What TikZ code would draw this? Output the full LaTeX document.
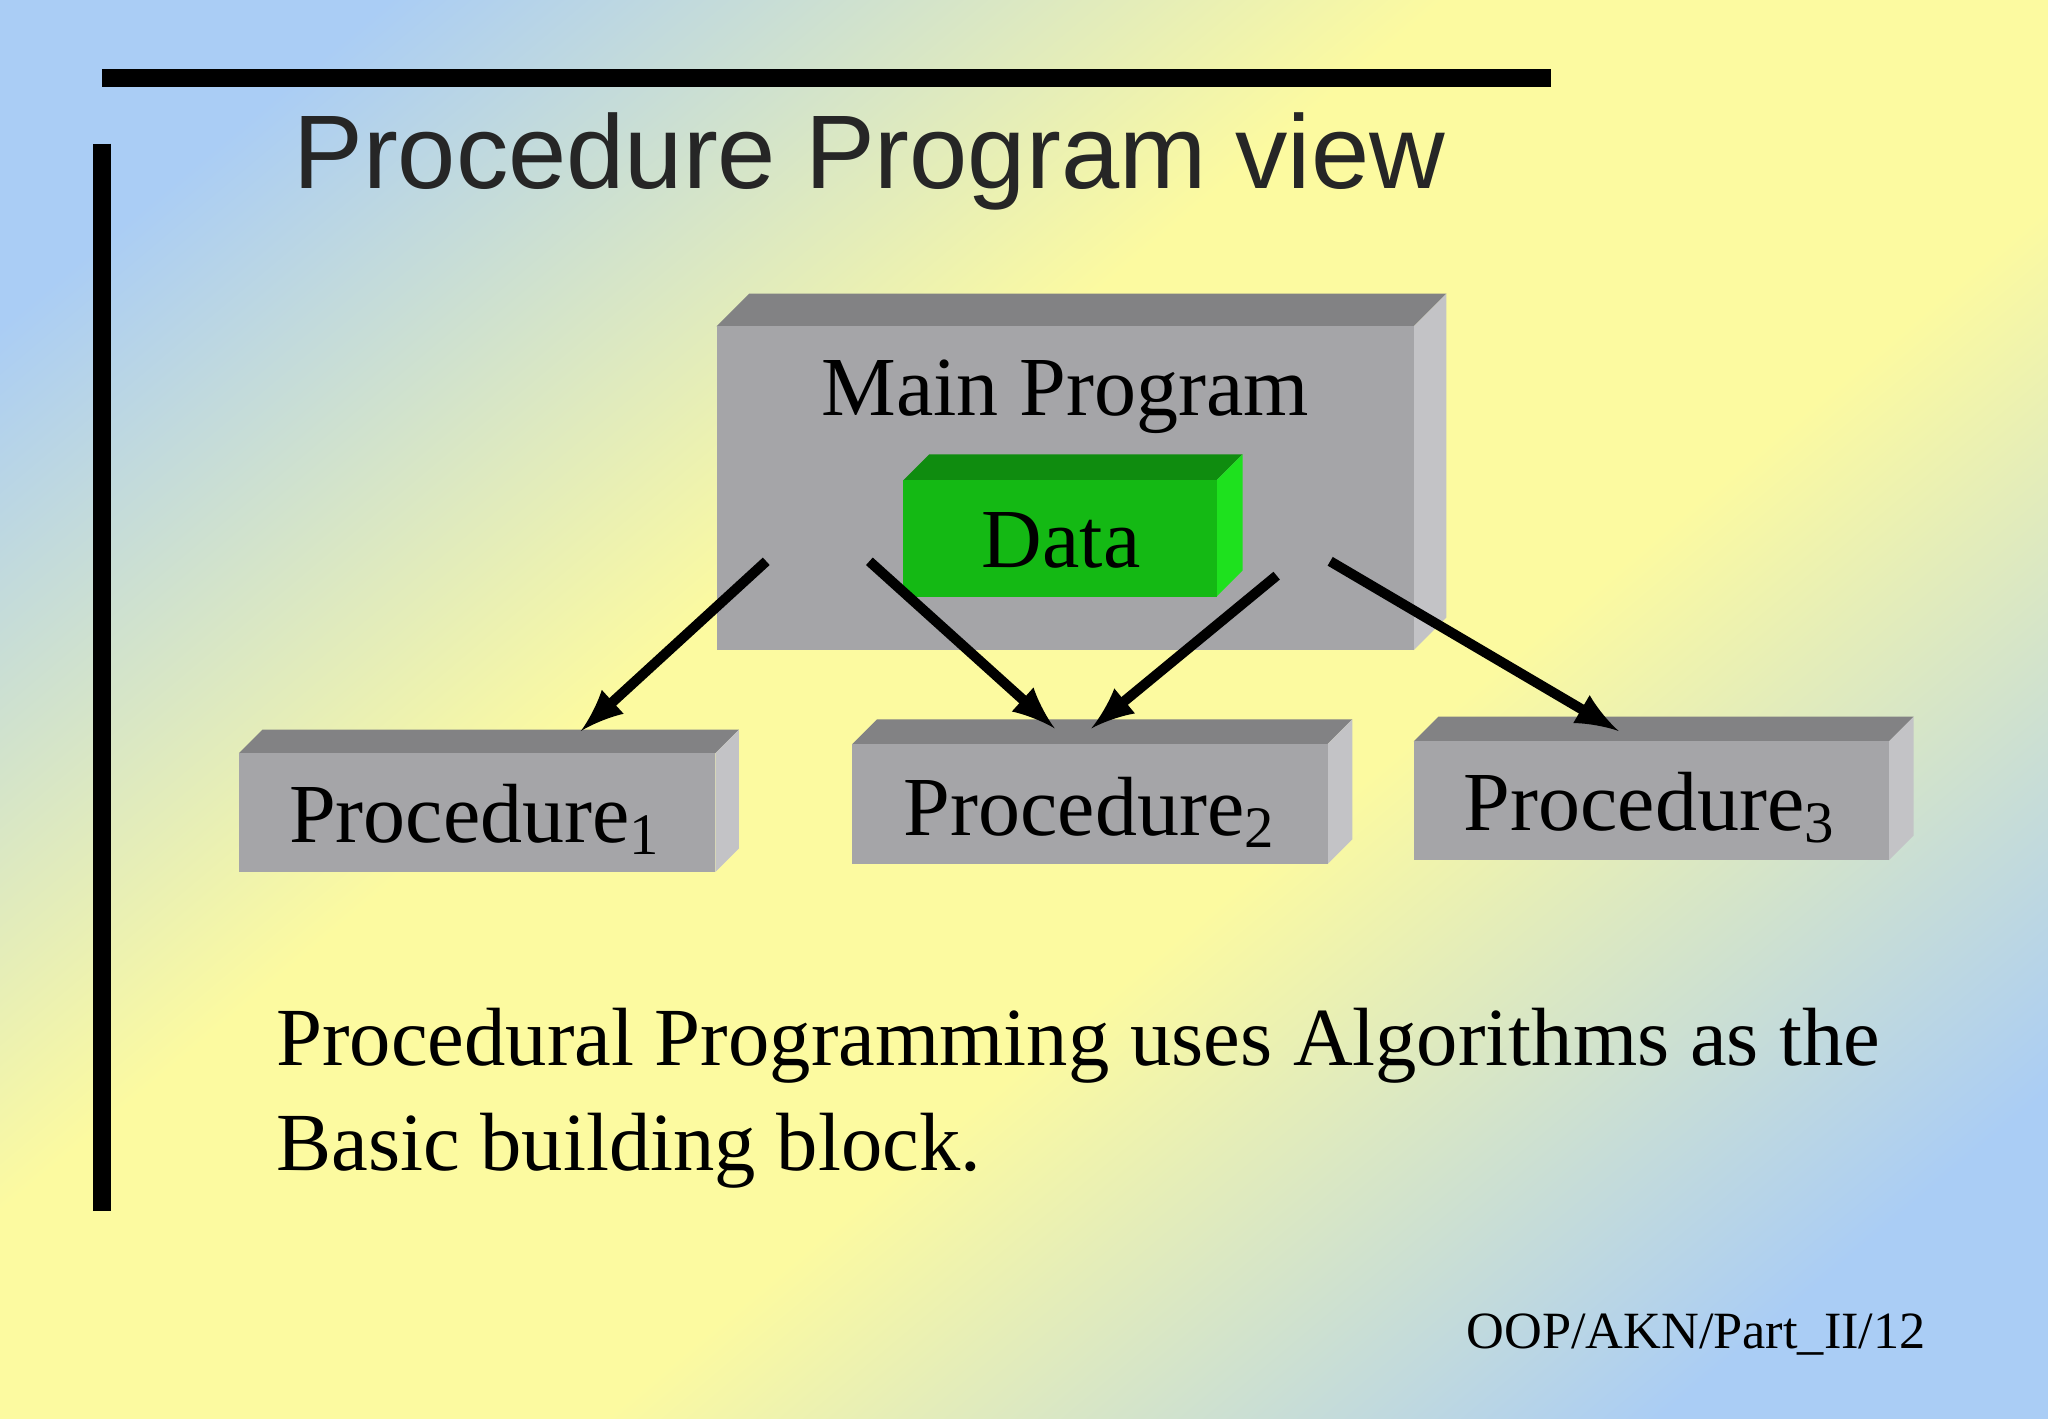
\documentclass[tikz,border=0pt]{standalone}
\usepackage{fontspec}
\setmainfont{Liberation Serif}
\newfontfamily\titlefont{Liberation Sans}
\usetikzlibrary{positioning}
\definecolor{bgblue}{RGB}{170,205,245}
\definecolor{bgyellow}{RGB}{252,250,160}
\definecolor{boxfront}{RGB}{165,165,168}
\definecolor{boxtop}{RGB}{130,130,132}
\definecolor{boxside}{RGB}{195,195,198}
\definecolor{datafront}{RGB}{20,185,20}
\definecolor{datatop}{RGB}{15,140,15}
\definecolor{dataside}{RGB}{30,225,30}
\pgfdeclareverticalshading{bgshade}{100bp}{color(0bp)=(bgblue); color(22bp)=(bgblue);
  color(42bp)=(bgyellow); color(58bp)=(bgyellow); color(78bp)=(bgblue); color(100bp)=(bgblue)}
\tikzset{
  front/.style = {fill=boxfront},
  top/.style   = {fill=boxtop},
  side/.style  = {fill=boxside},
  label/.style = {font=\fontsize{18.3}{22}\selectfont, inner sep=0pt},
  bar/.style   = {line width=4pt, black}
}
% 3D box: x1,y1 (front top-left), x2,y2 (front bottom-right), depth, top/front/side styles
\newcommand{\boxthree}[8]{%
  \fill[#6] (#1,#2) -- ++(#5,-#5) -- (#3+#5,#2-#5) -- (#3,#2) -- cycle;
  \fill[#8] (#3,#2) -- (#3+#5,#2-#5) -- (#3+#5,#4-#5) -- (#3,#4) -- cycle;
  \fill[#7] (#1,#2) rectangle (#3,#4);}
\begin{document}
\begin{tikzpicture}[x=0.01cm,y=-0.01cm,>=latex]
\shade[shading=bgshade, shading angle=40] (0cm,-10.86cm) rectangle (15.68cm,0cm);
\useasboundingbox (0,0) rectangle (1568,1086);

% frame bars
\draw[bar] (78,60) -- (1188,60);
\draw[bar] (78,110) -- (78,928);

% title
\node[anchor=west, inner sep=0pt, font=\titlefont\fontsize{22.8}{28}\selectfont, text=black!85]
  (title) at (224,124) {Procedure Program view};

% the boxes
\boxthree{549}{250}{1083}{498}{25}{top}{front}{side}
\boxthree{692}{368}{932}{457}{20}{fill=datatop}{fill=datafront}{fill=dataside}
\boxthree{183}{577}{548}{668}{18}{top}{front}{side}
\boxthree{653}{570}{1017}{662}{19}{top}{front}{side}
\boxthree{1083}{568}{1447}{659}{19}{top}{front}{side}

\node[label] (main) at (816,304) {Main Program};
\node[label] (data) at (813,414) {Data};
\node[label] (p1) at (364,628) {Procedure\textsubscript{1}};
\node[label] (p2) at (835,622) {Procedure\textsubscript{2}};
\node[label] (p3) at (1264,619) {Procedure\textsubscript{3}};

% arrow ends
\coordinate (m1) at (587,430);
\coordinate (m2) at (666,430);
\coordinate (m3) at (978,441);
\coordinate (m4) at (1019,430);
\coordinate (t1) at (445,560);
\coordinate (t2) at (808,558);
\coordinate (t3) at (836,558);
\coordinate (t4) at (1240,560);
\foreach \a/\b in {m1/t1,m2/t2,m3/t3,m4/t4}
  \draw[->, line width=2.2pt] (\a) -- (\b);

% text below
\node[anchor=north west, align=left, font=\fontsize{18}{22.8}\selectfont, inner sep=0pt]
  (note) at (211,772) {Procedural Programming uses Algorithms as the\\Basic building block.};
\node[anchor=east, inner sep=0pt, font=\fontsize{11.4}{14}\selectfont]
  (foot) at (1476,1022) {OOP/AKN/Part\_II/12};
\end{tikzpicture}
\end{document}
